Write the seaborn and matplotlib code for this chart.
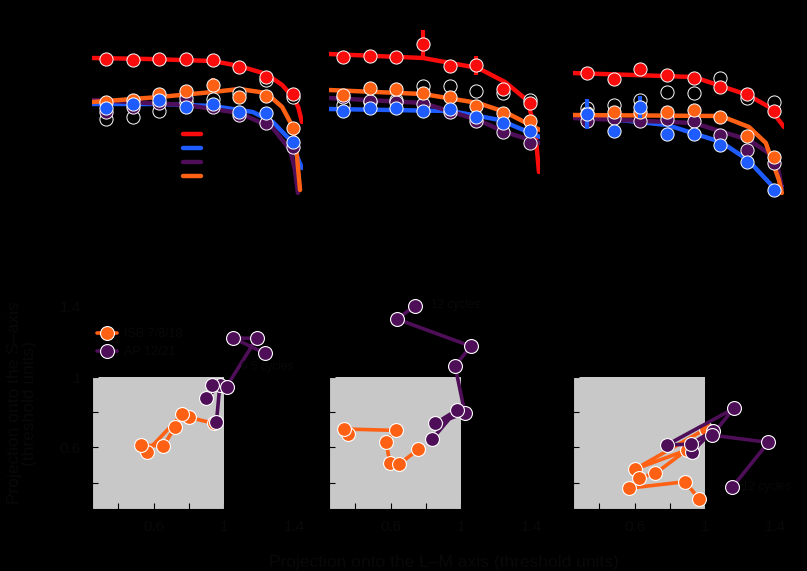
import numpy as np
import pandas as pd
import matplotlib
matplotlib.use("Agg")
import matplotlib.pyplot as plt
import seaborn as sns

# colours of the four colour directions
RED, BLUE, PURPLE, ORANGE = "#fa0c0c", "#1e5cff", "#4e0f58", "#ff6114"
TXT = "#090909"

# ---------------- top row: thresholds vs frequency step ----------------
steps = [0, 1, 2, 3, 4, 5, 6, 7]

# panel 1
p1_red = [1.72, 1.71, 1.72, 1.72, 1.71, 1.64, 1.54, 1.37]
p1_orange = [1.29, 1.31, 1.37, 1.40, 1.46, 1.34, 1.35, 1.03]
p1_blue = [1.23, 1.27, 1.31, 1.24, 1.27, 1.19, 1.18, 0.89]
p1_purple = [1.19, 1.24, 1.28, 1.33, 1.24, 1.16, 1.08, 0.84]
p1_black = [1.12, 1.14, 1.20, 1.29, 1.32, 1.38, 1.51, 1.34]
p1_red_fit_x = [-0.52, 1.6, 4.0, 5.0, 6.0, 6.6, 7.0, 7.2, 7.34]
p1_red_fit = [1.73, 1.72, 1.70, 1.65, 1.57, 1.46, 1.34, 1.24, 1.09]
p1_orange_fit_x = [-0.52, 0, 2, 4, 5.0, 6.0, 6.6, 7.0, 7.15, 7.27]
p1_orange_fit = [1.29, 1.30, 1.34, 1.39, 1.42, 1.38, 1.24, 1.04, 0.76, 0.41]
p1_blue_fit_x = [-0.52, 2.0, 4.0, 5.5, 6.25, 6.9, 7.34]
p1_blue_fit = [1.27, 1.27, 1.25, 1.19, 1.09, 0.91, 0.63]
p1_purple_fit_x = [-0.52, 3.0, 5.0, 6.25, 6.9, 7.08, 7.19]
p1_purple_fit = [1.31, 1.26, 1.18, 1.03, 0.81, 0.61, 0.38]

# panel 2
p2_red = [1.74, 1.75, 1.74, 1.87, 1.65, 1.66, 1.42, 1.28]
p2_red_err = [0, 0, 0, 0.14, 0, 0.095, 0.085, 0]
p2_orange = [1.36, 1.43, 1.42, 1.38, 1.34, 1.25, 1.18, 1.10]
p2_purple = [1.34, 1.30, 1.29, 1.27, 1.19, 1.10, 0.99, 0.88]
p2_blue = [1.20, 1.23, 1.23, 1.20, 1.22, 1.14, 1.08, 1.00]
p2_black = [1.26, 1.29, 1.31, 1.45, 1.45, 1.40, 1.38, 1.31]
p2_red_fit_x = [-0.52, 3.0, 5.06, 6.07, 6.89, 7.19, 7.34]
p2_red_fit = [1.77, 1.73, 1.63, 1.49, 1.31, 1.04, 0.59]
p2_orange_fit_x = [-0.52, 3.0, 5.06, 6.07, 7.38]
p2_orange_fit = [1.41, 1.37, 1.28, 1.19, 1.01]
p2_purple_fit_x = [-0.52, 3.0, 5.06, 6.07, 7.38]
p2_purple_fit = [1.33, 1.28, 1.11, 0.99, 0.88]
p2_blue_fit_x = [-0.52, 4.04, 5.88, 7.38]
p2_blue_fit = [1.22, 1.20, 1.11, 0.94]

# panel 3
p3_red = [1.58, 1.52, 1.62, 1.56, 1.53, 1.44, 1.37, 1.20]
p3_orange = [1.18, 1.19, 1.19, 1.19, 1.21, 1.14, 0.95, 0.74]
p3_purple = [1.10, 1.13, 1.10, 1.12, 1.10, 0.96, 0.81, 0.68]
p3_blue = [1.17, 1.00, 1.24, 0.97, 0.97, 0.86, 0.69, 0.41]
p3_blue_err = [0.15, 0, 0.11, 0, 0, 0, 0, 0]
p3_black = [1.23, 1.26, 1.31, 1.39, 1.38, 1.53, 1.33, 1.29]
p3_red_fit_x = [-0.56, 4.0, 6.03, 6.82, 7.38]
p3_red_fit = [1.58, 1.54, 1.36, 1.24, 1.04]
p3_orange_fit_x = [-0.56, 5.02, 6.07, 6.7, 7.19, 7.3]
p3_orange_fit = [1.16, 1.15, 1.04, 0.88, 0.51, 0.38]
p3_purple_fit_x = [-0.56, 4.0, 6.07, 7.08, 7.3]
p3_purple_fit = [1.13, 1.08, 0.91, 0.73, 0.43]
p3_blue_fit_x = [-0.56, 3.0, 5.02, 6.03, 7.08, 7.38]
p3_blue_fit = [1.16, 1.06, 0.89, 0.71, 0.41, 0.44]

# ---------------- bottom row: projections (threshold units) ----------------
threshold = 1.0
b1_orange_x = [0.945, 0.801, 0.763, 0.561, 0.528, 0.655, 0.722]
b1_orange_y = [0.737, 0.771, 0.788, 0.576, 0.614, 0.608, 0.714]
b1_purple_x = [0.958, 0.977, 0.898, 0.934, 1.015, 1.186, 1.053, 1.233]
b1_purple_y = [0.746, 0.955, 0.879, 0.958, 0.945, 1.220, 1.223, 1.135]

b2_orange_x = [0.356, 0.337, 0.629, 0.574, 0.597, 0.650, 0.758]
b2_orange_y = [0.676, 0.705, 0.697, 0.632, 0.510, 0.506, 0.589]
b2_purple_x = [0.739, 0.637, 1.057, 0.967, 1.023, 0.855, 0.977, 0.837]
b2_purple_y = [1.405, 1.330, 1.176, 1.064, 0.794, 0.737, 0.813, 0.648]

b3_orange_x = [1.004, 0.602, 0.896, 0.719, 0.627, 0.566, 0.886, 0.968]
b3_orange_y = [0.705, 0.476, 0.585, 0.453, 0.428, 0.368, 0.405, 0.307]
b3_purple_x = [0.926, 1.046, 0.920, 0.783, 1.165, 1.040, 1.361, 1.155]
b3_purple_y = [0.576, 0.695, 0.619, 0.614, 0.822, 0.670, 0.629, 0.373]

legend_names = ["ISB 7/8/18", "AP 12/21"]
top_legend = ["L\u2212M", "S", "L\u2212M+S", "L\u2212M\u2212S"]
annotations = [("0.5 cycles", 1.10, 1.057), ("12 cycles", 0.83, 1.41), ("12 cycles", 1.21, 0.375)]

sns.set_style("white")
plt.rcParams["font.family"] = ["Liberation Sans", "DejaVu Sans"]

fig = plt.figure(figsize=(8.07, 5.71), dpi=100, facecolor="black")
W, H = 807, 571
lefts = [92, 329, 573]
size = 211

top_panels = [
    (p1_red, None, p1_orange, p1_blue, None, p1_purple, p1_black,
     (p1_red_fit_x, p1_red_fit), (p1_orange_fit_x, p1_orange_fit),
     (p1_blue_fit_x, p1_blue_fit), (p1_purple_fit_x, p1_purple_fit)),
    (p2_red, p2_red_err, p2_orange, p2_blue, None, p2_purple, p2_black,
     (p2_red_fit_x, p2_red_fit), (p2_orange_fit_x, p2_orange_fit),
     (p2_blue_fit_x, p2_blue_fit), (p2_purple_fit_x, p2_purple_fit)),
    (p3_red, None, p3_orange, p3_blue, p3_blue_err, p3_purple, p3_black,
     (p3_red_fit_x, p3_red_fit), (p3_orange_fit_x, p3_orange_fit),
     (p3_blue_fit_x, p3_blue_fit), (p3_purple_fit_x, p3_purple_fit)),
]

pt_kw = dict(s=90, edgecolor="white", linewidth=0.7, zorder=4)
for i, panel in enumerate(top_panels):
    red, red_err, orange, blue, blue_err, purple, black, rf, of, bf, pf = panel
    ax = fig.add_axes([lefts[i] / W, 1 - 231 / H, size / W, size / H])
    ax.patch.set_alpha(0)
    # data points
    sns.scatterplot(x=steps, y=black, color="black", ax=ax, **pt_kw)
    sns.scatterplot(x=steps, y=purple, color=PURPLE, ax=ax, **pt_kw)
    sns.scatterplot(x=steps, y=orange, color=ORANGE, ax=ax, **pt_kw)
    sns.scatterplot(x=steps, y=red, color=RED, ax=ax, **pt_kw)
    if red_err is not None:
        ax.errorbar(steps, red, yerr=red_err, fmt="none", ecolor=RED, elinewidth=3, zorder=3)
    if blue_err is not None:
        ax.errorbar(steps, blue, yerr=blue_err, fmt="none", ecolor=BLUE, elinewidth=3, zorder=4.5)
    sns.scatterplot(x=steps, y=blue, color=BLUE, ax=ax, s=90, edgecolor="white", linewidth=0.7, zorder=4.6)
    if i == 0:
        ax.errorbar([4], [orange[4]], yerr=[0.07], fmt="none", ecolor=ORANGE, elinewidth=3, zorder=3)
    # fitted curves
    handles = []
    for (fx, fy), col, lab in [(rf, RED, top_legend[0]), (bf, BLUE, top_legend[1]),
                               (pf, PURPLE, top_legend[2]), (of, ORANGE, top_legend[3])]:
        sns.lineplot(x=fx, y=fy, color=col, lw=3.2, ax=ax, sort=False, zorder=2)
        handles.append(plt.Line2D([], [], color=col, lw=3.2, label=lab))
    ax.set_xlim(-0.52, 7.38)
    ax.set_ylim(0, 2.11)
    ax.tick_params(left=False, bottom=False, labelleft=False, labelbottom=False)
    for sp in ax.spines.values():
        sp.set_visible(False)
    if i == 0:
        leg = ax.legend(handles=handles, loc="upper left", bbox_to_anchor=(0.41, 0.50),
                        frameon=False, fontsize=8, handlelength=1.6, labelspacing=0.35,
                        handletextpad=0.5, borderaxespad=0)
        for t in leg.get_texts():
            t.set_color("black")

bottom_panels = [(b1_orange_x, b1_orange_y, b1_purple_x, b1_purple_y),
                 (b2_orange_x, b2_orange_y, b2_purple_x, b2_purple_y),
                 (b3_orange_x, b3_orange_y, b3_purple_x, b3_purple_y)]

lo, hi = 0.25, 1.45
for i, (ox, oy, px, py) in enumerate(bottom_panels):
    ax = fig.add_axes([lefts[i] / W, 1 - 509 / H, size / W, size / H])
    ax.patch.set_alpha(0)
    ax.fill_between([lo, threshold], lo, threshold, color="#c8c8c8", lw=0, zorder=0)
    sns.lineplot(x=ox, y=oy, sort=False, color=ORANGE, lw=2.6, marker="o", markersize=10,
                 markeredgecolor="white", markeredgewidth=0.8, ax=ax, label=legend_names[0], zorder=3)
    sns.lineplot(x=px, y=py, sort=False, color=PURPLE, lw=2.6, marker="o", markersize=10,
                 markeredgecolor="white", markeredgewidth=0.8, ax=ax, label=legend_names[1], zorder=3)
    ax.set_xlim(lo, hi)
    ax.set_ylim(lo, hi)
    ticks = [0.4, 0.6, 0.8, 1.0, 1.2, 1.4]
    labs = ["", "0.6", "", "1", "", "1.4"]
    ax.set_xticks(ticks)
    ax.set_xticklabels(labs)
    ax.set_yticks(ticks)
    ax.set_yticklabels(labs if i == 0 else [""] * len(ticks))
    ax.tick_params(direction="in", length=4, color="black", labelcolor=TXT, labelsize=11,
                   left=True, bottom=True, pad=8)
    for sp in ax.spines.values():
        sp.set_color("black")
    ax.set_xlabel("")
    ax.set_ylabel("")
    t, tx, ty = annotations[i]
    ax.text(tx, ty, t, fontsize=8.5, color=TXT, va="center", ha="left")
    if i == 0:
        leg = ax.legend(loc="upper left", bbox_to_anchor=(0.0, 0.88), frameon=False,
                        fontsize=9, handlelength=1.6, handletextpad=0.6, labelspacing=0.45,
                        borderaxespad=0)
        for tt in leg.get_texts():
            tt.set_color(TXT)
    else:
        ax.get_legend().remove()

fig.text((329 + 540) / 2 / W + 0.012, 1 - 562 / H, "Projection onto the L\u2013M axis (threshold units)",
         ha="center", va="center", fontsize=12.5, color=TXT)
fig.text(22 / W, 1 - 403 / H, "Projection onto the S\u2013axis\n(threshold units)",
         ha="center", va="center", rotation=90, fontsize=12.5, color=TXT, linespacing=1.0)

fig.savefig("out.png", dpi=100, facecolor="black")
